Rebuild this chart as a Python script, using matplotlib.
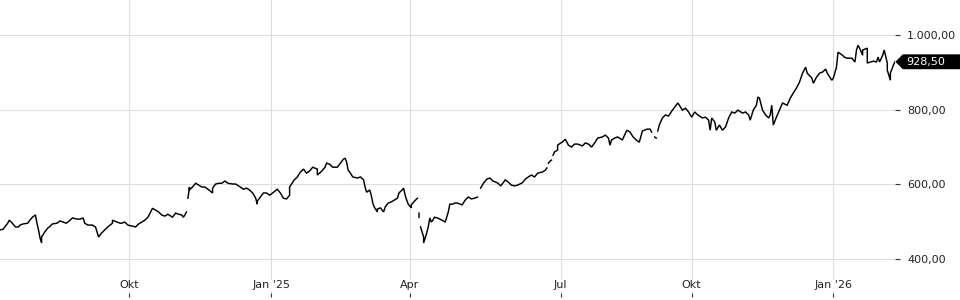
import numpy as np
import pandas as pd
import matplotlib
matplotlib.use("Agg")
import matplotlib.pyplot as plt
from matplotlib.path import Path
from matplotlib.ticker import FuncFormatter, FixedLocator
import matplotlib.dates as mdates

# ---- data ----
start_date = "2024-07-09"
# days since start_date; None in prices marks a gap in the quote series
days_a = [0, 2, 5, 6, 8, 10, 12, 13, 15, 18, 19, 21, 23, 24, 25, 26, 27, 27, 29, 31,
          32, 34, 37, 39, 41, 43, 45, 47, 50, 52, 54, 55, 57, 60, 62, 63, 64, 66, 68, 70,
          73, 73, 76, 78, 79, 81, 83, 86, 88, 90, 92, 94, 96, 99, 101, 103, 105, 107, 109, 112,
          114, 116, 118, 119, 120, 121]
price_a = [478, 480, 496, 504, 496, 486, 486, 491, 494, 496, 502, 512, 518, 496, 478, 456, 443, 459, 472, 483,
           486, 494, 496, 502, 499, 496, 502, 510, 507, 507, 510, 496, 491, 491, 486, 472, 459, 470, 478, 486,
           496, 504, 499, 496, 496, 499, 491, 488, 486, 494, 499, 504, 512, 536, 531, 526, 518, 515, 520, 512,
           523, 520, 518, 512, 518, 526]
days_b = [122, 123, 123, 125, 127, 129, 131, 133, 135, 138, 138, 140, 142, 144, 146, 148, 151, 153, 154, 156,
          158, 160, 162, 164, 166, 167, 167, 169, 171, 173, 175, 177, 180, 182, 184, 186, 188, 188, 190, 191,
          193, 195, 197, 199, 201, 203, 206, 206, 209, 211, 212, 214, 216, 219, 221, 223, 224, 225, 226, 227,
          229, 232, 234, 236, 237, 238, 240, 241, 242, 243, 245, 245, 247, 249, 250, 252, 254, 256, 258, 259,
          261, 262, 263, 264, 265, 267, 267, 269, 271]
price_b = [563, 593, 585, 593, 603, 598, 593, 593, 587, 577, 590, 601, 603, 603, 609, 603, 601, 601, 598, 593,
           587, 590, 585, 577, 563, 547, 555, 566, 577, 577, 571, 577, 587, 577, 563, 561, 571, 593, 606, 612,
           620, 633, 641, 630, 636, 646, 641, 625, 636, 646, 657, 654, 646, 646, 657, 668, 670, 660, 638, 633,
           620, 617, 620, 612, 593, 579, 585, 571, 550, 539, 526, 534, 537, 526, 539, 550, 553, 558, 563, 577,
           585, 590, 571, 558, 547, 537, 545, 555, 563]
days_c = [272, 272]
price_c = [523, 512]
days_d = [273, 274, 275, 275, 276, 277, 278, 279, 280, 281, 282, 284, 287, 289, 290, 291, 292, 294, 295, 297,
          300, 302, 304, 306, 308, 310]
price_d = [486, 472, 459, 443, 456, 470, 486, 510, 499, 504, 512, 510, 504, 499, 512, 526, 547, 547, 550, 550,
           545, 558, 566, 561, 563, 566]
days_e = [312, 314, 316, 318, 320, 323, 325, 326, 328, 330, 332, 334, 336, 339, 341, 343, 345, 347, 349, 352,
          354, 355]
price_e = [590, 604, 614, 617, 609, 604, 596, 601, 612, 606, 598, 596, 598, 604, 614, 620, 625, 620, 630, 633,
           638, 644]
days_f = [356, 357, 358]
price_f = [657, 662, 665]
days_g = [359, 360, 362, 362, 364, 365, 367, 369, 371, 373, 375, 378, 380, 382, 384, 386, 388, 391, 393, 395,
          396, 397, 399, 401, 404, 406, 407, 409, 411, 413, 415, 417, 420, 422, 423]
price_g = [678, 687, 692, 705, 711, 713, 721, 705, 700, 708, 708, 703, 711, 708, 700, 711, 724, 727, 732, 724,
           705, 719, 724, 727, 719, 737, 745, 740, 727, 719, 713, 743, 748, 748, 740]
days_h = [425, 426]
price_h = [727, 724]
days_i = [427, 428, 430, 432, 434, 436, 438, 440, 441, 443, 445, 447, 449, 451, 453, 456, 458, 460, 461, 462,
          464, 465, 467, 469, 471, 473, 475, 477, 479, 482, 484, 486, 487, 489, 491, 492, 493, 495, 497, 499,
          500, 501, 502, 504, 506, 508, 511, 513, 515, 517, 519, 521, 523, 524, 527, 528, 530, 532, 534, 536,
          537, 540, 541, 543, 544, 547, 548, 550, 553, 555, 556, 557, 558, 560, 560, 563, 563, 565, 567, 569,
          570, 571, 573, 574, 576, 576, 578, 578, 580, 581]
price_i = [743, 759, 778, 786, 783, 796, 807, 818, 812, 799, 804, 794, 780, 794, 786, 778, 780, 772, 745, 778,
           767, 745, 759, 745, 754, 778, 794, 791, 799, 791, 794, 786, 772, 799, 812, 834, 831, 799, 786, 778,
           786, 812, 759, 780, 799, 818, 812, 831, 845, 858, 874, 898, 914, 898, 885, 871, 887, 898, 901, 909,
           898, 879, 885, 914, 954, 946, 941, 938, 938, 928, 960, 973, 965, 946, 960, 965, 925, 928, 930, 928,
           941, 928, 946, 960, 925, 906, 879, 898, 920, 928.5]

last_price = 928.5
last_label = "928,50"
y_ticks = [400, 600, 800, 1000]
x_tick_dates = ["2024-10-01", "2025-01-01", "2025-04-01", "2025-07-08", "2025-10-01", "2026-01-01"]
x_tick_labels = ["Okt", "Jan '25", "Apr", "Jul", "Okt", "Jan '26"]

# ---- assemble series with gaps ----
segments = [(days_a, price_a), (days_b, price_b), (days_c, price_c), (days_d, price_d),
            (days_e, price_e), (days_f, price_f), (days_g, price_g), (days_h, price_h),
            (days_i, price_i)]
all_days, all_prices = [], []
for k, (d, p) in enumerate(segments):
    all_days.extend(d)
    all_prices.extend(p)
    if k < len(segments) - 1:
        all_days.append(d[-1])
        all_prices.append(None)
prices = np.array(all_prices, dtype=float)
dates = pd.Timestamp(start_date) + pd.to_timedelta(np.array(all_days, dtype=float), unit="D")

# ---- figure ----
fig = plt.figure(figsize=(9.6, 3.0), dpi=100)
ax = fig.add_axes([0, 7 / 300, 895 / 960, 293 / 300])

ax.plot(dates, prices, color="black", lw=1.05, solid_joinstyle="miter")

ax.set_xlim(dates[0], dates[-1])
ax.set_ylim(309, 1094)

for s in ax.spines.values():
    s.set_visible(False)

ax.grid(True, color="#dedede", lw=0.8)
ax.set_axisbelow(True)

ax.yaxis.tick_right()
ax.yaxis.set_major_locator(FixedLocator(y_ticks))
ax.yaxis.set_major_formatter(FuncFormatter(
    lambda v, p: f"{v:,.2f}".replace(",", "X").replace(".", ",").replace("X", ".")))
ax.tick_params(axis="y", length=3.8, width=0.8, color="#333333", pad=5.0,
               labelsize=8, labelcolor="#222222")

tick_nums = mdates.date2num(pd.to_datetime(x_tick_dates))
ax.set_xticks(tick_nums)
ax.set_xticklabels(x_tick_labels)
ax.tick_params(axis="x", length=3.0, width=0.8, color="#333333", pad=-12.0,
               labelsize=8, labelcolor="#222222")
for lab in ax.get_xticklabels():
    lab.set_bbox(dict(facecolor="white", edgecolor="none", pad=0.6))


def tag_box(x0, y0, width, height, mutation_size):
    py = 0.22 * mutation_size
    yb, yt = y0 - py, y0 + height + py
    h = (yt - yb) / 2
    xl = x0 - 0.3 * mutation_size
    tip = xl - h
    xr = x0 + width + 3.0 * mutation_size
    return Path([(tip, yb + h), (xl, yb), (xr, yb), (xr, yt), (xl, yt), (tip, yb + h)],
                closed=True)


ax.annotate(last_label, xy=(1, last_price), xycoords=("axes fraction", "data"),
            xytext=(8.0, 0), textcoords="offset points", ha="left", va="center",
            color="white", fontsize=8, annotation_clip=False,
            bbox=dict(boxstyle=tag_box, facecolor="black", edgecolor="none"))

fig.savefig("out.png", dpi=100)
